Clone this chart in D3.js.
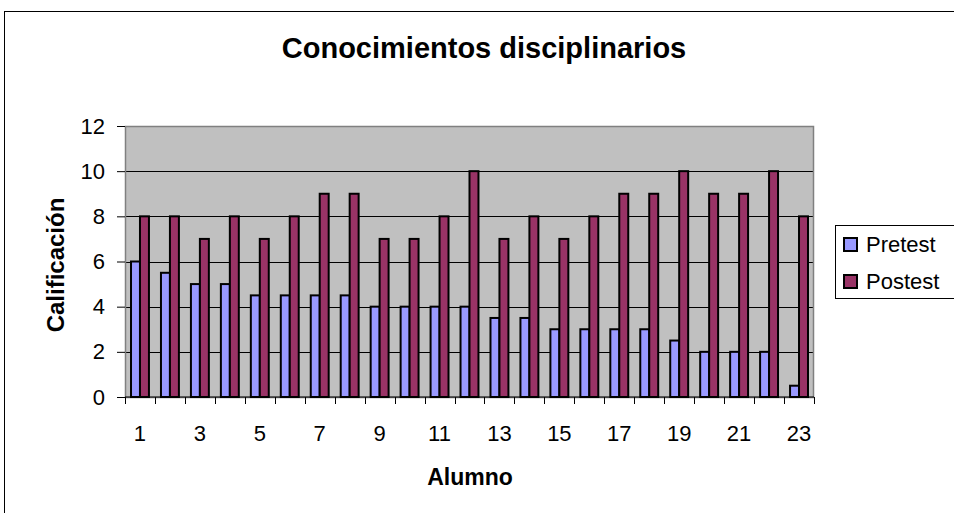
<!DOCTYPE html>
<meta charset="utf-8">
<style>
  body { margin: 0; background: #fff; }
  text { font-family: "Liberation Sans", Arial, sans-serif; }
</style>
<body>
<svg width="954" height="513"></svg>
<script src="https://cdn.jsdelivr.net/npm/d3@7"></script>
<script>

    var alumnos = d3.range(1, 24);
    var pretest = [6, 5.5, 5, 5, 4.5, 4.5, 4.5, 4.5, 4, 4, 4, 4, 3.5, 3.5, 3, 3, 3, 3, 2.5, 2, 2, 2, 0.5];
    var postest = [8, 8, 7, 8, 7, 8, 9, 9, 7, 7, 8, 10, 7, 8, 7, 8, 9, 9, 10, 9, 9, 10, 8];
    var seriesNames = ["Pretest", "Postest"];
    var colors = ["#9999ff", "#993366"];
    var yTicks = [0, 2, 4, 6, 8, 10, 12];

    var data = alumnos.map(function (a, i) {
        return {alumno: a, values: [pretest[i], postest[i]]};
    });

    var svg = d3.select("svg");

    // chart area border
    svg.append("rect")
        .attr("x", 4.5).attr("y", 11.5)
        .attr("width", 960).attr("height", 520)
        .attr("fill", "#fff")
        .attr("stroke", "#000");

    var margin = {top: 126, left: 125},
        width = 814 - 125,
        height = 397 - 126;

    var x = d3.scaleBand()
        .domain(alumnos)
        .range([0, width])
        .padding(0);

    var xs = d3.scaleBand()
        .domain([0, 1])
        .range([0, x.bandwidth()])
        .paddingInner(0)
        .paddingOuter(0.67);

    var y = d3.scaleLinear()
        .domain([0, 12])
        .range([height, 0]);

    var g = svg.append("g")
        .attr("transform", "translate(" + margin.left + "," + margin.top + ")");

    g.append("rect")
        .attr("width", width)
        .attr("height", height)
        .attr("fill", "#c0c0c0");

    // gridlines
    g.selectAll(".grid")
        .data(yTicks.slice(1, -1))
        .enter().append("line")
        .attr("x1", 0).attr("x2", width)
        .attr("y1", function (d) { return Math.round(y(d)) + 0.5; })
        .attr("y2", function (d) { return Math.round(y(d)) + 0.5; })
        .attr("stroke", "#000");

    // plot border
    g.append("rect")
        .attr("x", 0.5).attr("y", 0.5)
        .attr("width", width - 1)
        .attr("height", height)
        .attr("fill", "none")
        .attr("stroke", "#808080")
        .attr("stroke-width", 1.5);

    // bars
    var groups = g.selectAll(".grp")
        .data(data)
        .enter().append("g")
        .attr("transform", function (d) { return "translate(" + x(d.alumno) + ",0)"; });

    groups.selectAll("rect")
        .data(function (d) { return d.values; })
        .enter().append("rect")
        .attr("x", function (d, i) { return xs(i); })
        .attr("width", xs.bandwidth())
        .attr("y", function (d) { return y(d); })
        .attr("height", function (d) { return height - y(d); })
        .attr("fill", function (d, i) { return colors[i]; })
        .attr("stroke", "#000")
        .attr("stroke-width", 2);

    // x axis
    var xAxis = g.append("g")
        .attr("transform", "translate(0," + height + ")");
    xAxis.append("line")
        .attr("x1", 0).attr("x2", width)
        .attr("stroke", "#000");
    xAxis.selectAll(".tick")
        .data(d3.range(0, alumnos.length + 1))
        .enter().append("line")
        .attr("x1", function (i) { return Math.round(i * x.step()) + 0.5; })
        .attr("x2", function (i) { return Math.round(i * x.step()) + 0.5; })
        .attr("y1", 0).attr("y2", 7)
        .attr("stroke", "#000");
    xAxis.selectAll(".lbl")
        .data(alumnos.filter(function (a) { return a % 2 === 1; }))
        .enter().append("text")
        .attr("x", function (d) { return x(d) + x.bandwidth() / 2; })
        .attr("y", 44)
        .attr("text-anchor", "middle")
        .style("font-size", "22px")
        .text(function (d) { return d; });

    // y axis
    var yAxis = g.append("g")
        .call(d3.axisLeft(y).tickValues(yTicks).tickSize(8).tickPadding(12));
    yAxis.select(".domain").remove();
    yAxis.selectAll("text")
        .style("font-size", "22px")
        .style("font-family", "Liberation Sans, Arial, sans-serif")
        .attr("fill", "#000");
    yAxis.selectAll("line").attr("stroke", "#000");

    // titles
    svg.append("text")
        .attr("x", 484).attr("y", 58)
        .attr("text-anchor", "middle")
        .style("font-size", "29px")
        .style("font-weight", "bold")
        .text("Conocimientos disciplinarios");

    svg.append("text")
        .attr("x", 470).attr("y", 485)
        .attr("text-anchor", "middle")
        .style("font-size", "23px")
        .style("font-weight", "bold")
        .text("Alumno");

    svg.append("text")
        .attr("transform", "translate(64,265) rotate(-90)")
        .attr("text-anchor", "middle")
        .style("font-size", "24px")
        .style("font-weight", "bold")
        .text("Calificación");

    // legend
    var legend = svg.append("g").attr("transform", "translate(835,225)");
    legend.append("rect")
        .attr("x", 0.5).attr("y", 0.5)
        .attr("width", 130).attr("height", 73)
        .attr("fill", "#fff")
        .attr("stroke", "#000");
    var items = legend.selectAll(".item")
        .data(seriesNames)
        .enter().append("g")
        .attr("transform", function (d, i) { return "translate(0," + (27 + i * 37) + ")"; });
    items.append("rect")
        .attr("x", 9).attr("y", -14)
        .attr("width", 13).attr("height", 13)
        .attr("fill", function (d, i) { return colors[i]; })
        .attr("stroke", "#000")
        .attr("stroke-width", 2);
    items.append("text")
        .attr("x", 31).attr("y", 0)
        .style("font-size", "22px")
        .text(function (d) { return d; });

</script>
</body>
